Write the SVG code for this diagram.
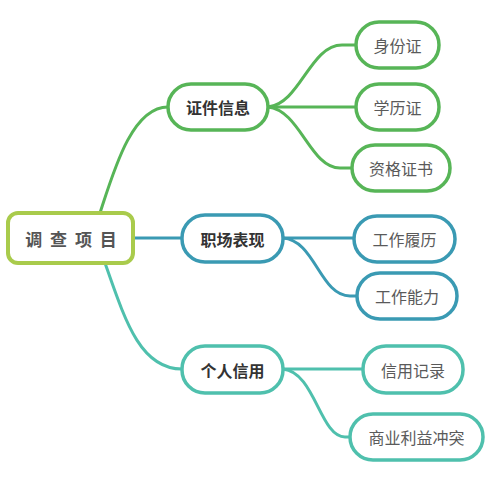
<svg xmlns="http://www.w3.org/2000/svg" width="492" height="488" viewBox="0 0 492 488">
<style>
  .node rect { fill: #ffffff; stroke-width: 3.5; }
  .g rect { stroke: #57b557; }
  .b rect { stroke: #3a9ab3; }
  .t rect { stroke: #4fc0ad; }
  .r rect { stroke: #a9cb4c; stroke-width: 4; }
  text { font-family: "Noto Sans CJK SC", "Noto Sans", sans-serif; text-anchor: middle; dominant-baseline: central; }
  .leaf text { font-size: 16px; fill: #5a5a5a; }
  .mid text { font-size: 16px; font-weight: bold; fill: #333333; }
  .r text { font-size: 17px; font-weight: bold; fill: #555555; letter-spacing: 2px; }
  .links path { fill: none; stroke-width: 3; }
  .lg { stroke: #57b557; }
  .lb { stroke: #3a9ab3; }
  .lt { stroke: #4fc0ad; }
</style>
<rect width="492" height="488" fill="#ffffff"/>
<g id="links" class="links">
  <path class="lg" d="M100,213 C114,170 132,107 168,107"/>
  <path class="lb" d="M133,238 H182"/>
  <path class="lt" d="M105,263 C125,320 140,369 182,369"/>
  <path class="lg" d="M268,107 C300,104 310,45 342,45 H356"/>
  <path class="lg" d="M268,107 H356"/>
  <path class="lg" d="M268,107 C300,110 310,168 340,168 H352"/>
  <path class="lb" d="M283,238 H354"/>
  <path class="lb" d="M283,238 C315,240 320,296 350,296 H357"/>
  <path class="lt" d="M283,369 H363"/>
  <path class="lt" d="M283,369 C315,372 320,437 345,437 H350"/>
</g>
<g id="root" class="node r"><rect x="8" y="213" width="125" height="50" rx="10"/><text x="72" y="238">调 查 项 目</text></g>
<g id="n-zhengjian" class="node g mid"><rect x="168" y="84" width="100" height="46" rx="23"/><text x="218" y="107">证件信息</text></g>
<g id="n-shenfen" class="node g leaf"><rect x="356" y="22" width="83" height="46" rx="23"/><text x="397.5" y="45">身份证</text></g>
<g id="n-xueli" class="node g leaf"><rect x="356" y="84" width="83" height="46" rx="23"/><text x="397.5" y="107">学历证</text></g>
<g id="n-zige" class="node g leaf"><rect x="352" y="145" width="98" height="46" rx="23"/><text x="401" y="168">资格证书</text></g>
<g id="n-zhichang" class="node b mid"><rect x="182" y="215" width="101" height="47" rx="23"/><text x="232.5" y="238.5">职场表现</text></g>
<g id="n-lvli" class="node b leaf"><rect x="354" y="216" width="101" height="46" rx="23"/><text x="404.5" y="239">工作履历</text></g>
<g id="n-nengli" class="node b leaf"><rect x="357" y="273" width="100" height="46" rx="23"/><text x="407" y="296">工作能力</text></g>
<g id="n-xinyong" class="node t mid"><rect x="182" y="346" width="101" height="47" rx="23"/><text x="232.5" y="369.5">个人信用</text></g>
<g id="n-jilu" class="node t leaf"><rect x="363" y="346" width="100" height="47" rx="23"/><text x="413" y="369.5">信用记录</text></g>
<g id="n-chongtu" class="node t leaf"><rect x="350" y="414" width="133" height="46" rx="23"/><text x="416.5" y="437">商业利益冲突</text></g>
</svg>
